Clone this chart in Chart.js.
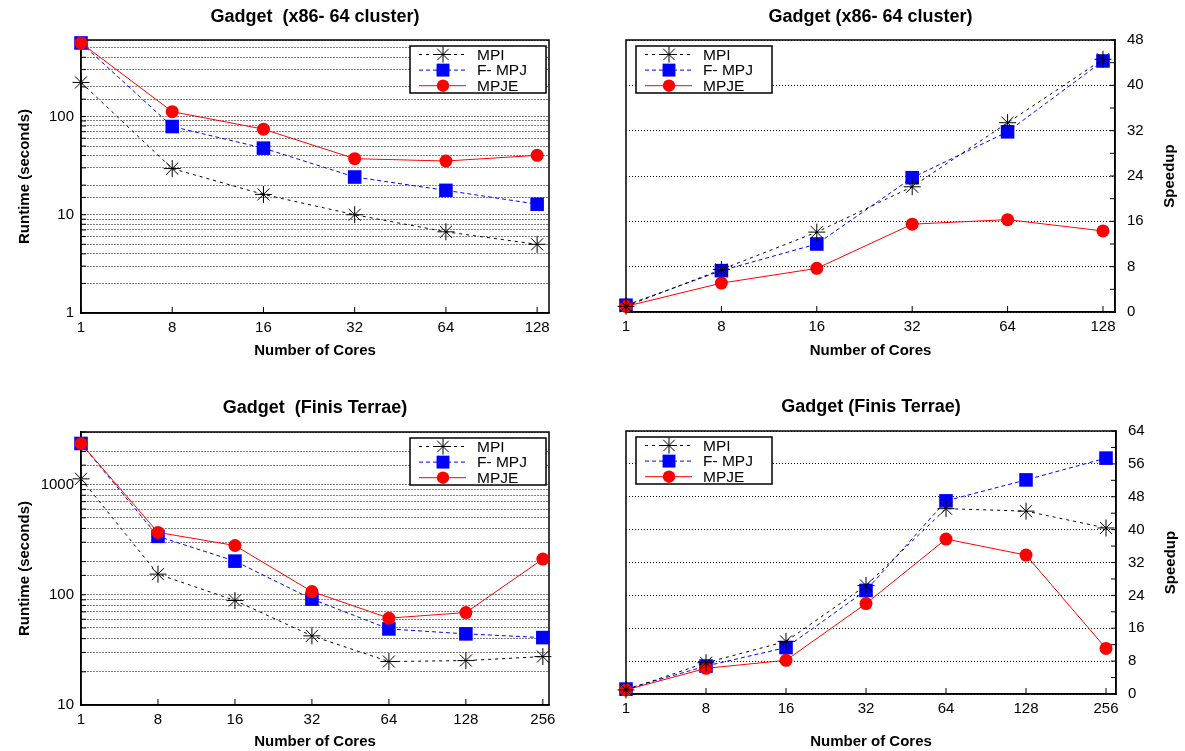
<!DOCTYPE html>
<html>
<head>
<meta charset="utf-8">
<script src="https://cdn.jsdelivr.net/npm/chart.js@4.4.1/dist/chart.umd.min.js"></script>
<style>
  html, body { margin: 0; padding: 0; background: #fff; }
  body { width: 1185px; height: 751px; position: relative; overflow: hidden; }
  canvas { position: absolute; }
</style>
</head>
<body>
<canvas id="runX86" width="630" height="370" style="left:0px;top:0px"></canvas>
<canvas id="runFT" width="630" height="360" style="left:0px;top:391px"></canvas>
<canvas id="spdX86" width="629" height="370" style="left:556px;top:0px"></canvas>
<canvas id="spdFT" width="628" height="361" style="left:557px;top:390px"></canvas>
<script>
// x categories
const coresX86 = ['1', '8', '16', '32', '64', '128'];
const coresFT = ['1', '8', '16', '32', '64', '128', '256'];
const seriesNames = ['MPI', 'F- MPJ', 'MPJE'];

// runtime (seconds), x86-64 cluster
const runtimeX86Mpi = [222, 29.5, 16.1, 10, 6.7, 5.0];
const runtimeX86Fmpj = [560, 79, 47.6, 24.2, 17.7, 12.8];
const runtimeX86Mpje = [560, 112, 74.3, 37.2, 35.2, 40.2];

// speedup, x86-64 cluster
const speedupX86Mpi = [1, 7.5, 14.1, 22.1, 33.4, 44.6];
const speedupX86Fmpj = [1.2, 7.3, 12.0, 23.7, 31.8, 44.3];
const speedupX86Mpje = [1, 5.1, 7.7, 15.5, 16.3, 14.3];

// runtime (seconds), Finis Terrae
const runtimeFTMpi = [1127, 154, 88.8, 42.4, 24.8, 25.3, 27.5];
const runtimeFTFmpj = [2360, 339, 202, 91.4, 49, 44.2, 40.9];
const runtimeFTMpje = [2360, 368, 280, 107, 61.4, 69, 211];

// speedup, Finis Terrae
const speedupFTMpi = [1, 7.6, 12.8, 26.4, 45.1, 44.5, 40.4];
const speedupFTFmpj = [1.2, 6.8, 11.3, 25.2, 47.0, 52.1, 57.4];
const speedupFTMpje = [1, 6.25, 8.2, 22.0, 37.7, 33.8, 11.1];

const runtimeTickLabels = [1, 10, 100, 1000];

Chart.defaults.font.family = '"Liberation Sans", Arial, sans-serif';
Chart.defaults.color = '#000';

const seriesStyle = [
  { color: '#000000', dash: [3, 4], point: 'star', radius: 8.5, fill: 'rgba(0,0,0,0)', pw: 1, order: 0 },
  { color: '#0000ff', dash: [4, 3], point: 'rect', radius: 9.6, fill: '#0000ff', pw: 0, order: 2 },
  { color: '#ff0000', dash: [], point: 'circle', radius: 6.5, fill: '#ff0000', pw: 0, order: 1 },
];

function buildDatasets(series) {
  return series.map((vals, i) => {
    const s = seriesStyle[i];
    return {
      label: seriesNames[i],
      data: vals.map((v, k) => ({ x: k, y: v })),
      borderColor: s.color,
      borderWidth: 1,
      borderDash: s.dash,
      pointStyle: s.point,
      pointRadius: s.radius,
      pointHoverRadius: s.radius,
      pointBackgroundColor: s.fill,
      pointBorderColor: s.color,
      pointBorderWidth: s.pw,
      fill: false,
      tension: 0,
      order: s.order,
      clip: false
    };
  });
}

// box around the plot plus small inward tick marks on the axis sides
const frame = {
  id: 'frame',
  beforeDatasetsDraw(chart) {
    const { ctx, chartArea: a } = chart;
    const ys = chart.scales.y;
    const onRight = ys.position === 'right';
    ctx.save();
    ctx.strokeStyle = '#000';
    ctx.lineWidth = 1;
    ctx.beginPath();
    ys.ticks.forEach(t => {
      const y = ys.getPixelForValue(t.value);
      if (onRight) { ctx.moveTo(a.right, y); ctx.lineTo(a.right - 5, y); }
      else { ctx.moveTo(a.left, y); ctx.lineTo(a.left + 5, y); }
    });
    chart.scales.x.ticks.forEach(t => {
      const x = chart.scales.x.getPixelForValue(t.value);
      ctx.moveTo(x, a.bottom); ctx.lineTo(x, a.bottom - 6);
    });
    ctx.stroke();
    ctx.lineWidth = 1.5;
    ctx.strokeRect(a.left, a.top, a.right - a.left, a.bottom - a.top);
    ctx.restore();
  }
};

const boxLegend = {
  id: 'boxLegend',
  afterDraw(chart, args, opts) {
    const { ctx, chartArea: a } = chart;
    const w = 136, h = 47;
    const x0 = opts.side === 'right' ? a.right - 3 - w : a.left + 10;
    const y0 = a.top + 6;
    ctx.save();
    ctx.fillStyle = '#fff';
    ctx.fillRect(x0, y0, w, h);
    ctx.lineWidth = 1.5;
    ctx.strokeStyle = '#000';
    ctx.strokeRect(x0, y0, w, h);
    chart.data.datasets.forEach((ds, i) => {
      const y = y0 + 8.5 + i * 15.6;
      ctx.lineWidth = 1;
      ctx.strokeStyle = ds.borderColor;
      ctx.setLineDash(ds.borderDash);
      ctx.beginPath();
      ctx.moveTo(x0 + 9, y);
      ctx.lineTo(x0 + 56, y);
      ctx.stroke();
      ctx.setLineDash([]);
      ctx.fillStyle = ds.pointBackgroundColor;
      ctx.strokeStyle = ds.pointBorderColor;
      Chart.helpers.drawPoint(ctx, {
        pointStyle: ds.pointStyle, radius: ds.pointRadius * 0.95, rotation: 0, borderWidth: ds.pointBorderWidth
      }, x0 + 33, y);
      ctx.fillStyle = '#000';
      ctx.font = '15.5px "Liberation Sans", Arial, sans-serif';
      ctx.textAlign = 'left';
      ctx.textBaseline = 'middle';
      ctx.fillText(ds.label, x0 + 67, y + 1);
    });
    ctx.restore();
  }
};

// right-hand axis title read bottom to top
const sideTitle = {
  id: 'sideTitle',
  afterDraw(chart, args, opts) {
    if (!opts.text) return;
    const { ctx, chartArea: a } = chart;
    ctx.save();
    ctx.translate(a.right + opts.offset, (a.top + a.bottom) / 2);
    ctx.rotate(-Math.PI / 2);
    ctx.font = 'bold 15px "Liberation Sans", Arial, sans-serif';
    ctx.fillStyle = '#000';
    ctx.textAlign = 'center';
    ctx.textBaseline = 'middle';
    ctx.fillText(opts.text, 0, 0);
    ctx.restore();
  }
};

function makeChart(id, c) {
  const isLog = c.yType === 'logarithmic';
  const yScale = isLog ? {
    type: 'logarithmic',
    position: 'left',
    min: c.yMin, max: c.yMax,
    afterFit: s => { s.width = c.yWidth; },
    ticks: {
      autoSkip: false,
      font: { size: 15 },
      padding: 7,
      callback: v => runtimeTickLabels.includes(v) ? String(v) : ''
    },
    grid: { color: '#000', lineWidth: 1, drawTicks: false },
    border: { display: true, color: '#000', width: 1.5, dash: [1, 2] },
    title: {
      display: true, text: 'Runtime (seconds)',
      font: { size: 15, weight: 'bold' }, padding: { top: 16, bottom: 0 }
    }
  } : {
    type: 'linear',
    position: 'right',
    min: c.yMin, max: c.yMax,
    afterFit: s => { s.width = c.yWidth; },
    ticks: {
      stepSize: 4,
      autoSkip: false,
      font: { size: 15 },
      padding: 12,
      callback: v => v % 8 === 0 ? String(v) : ''
    },
    grid: {
      color: ctx => (ctx.tick && ctx.tick.value % 8 === 0) ? '#000' : 'rgba(0,0,0,0)',
      lineWidth: 1, drawTicks: false
    },
    border: { display: true, color: '#000', width: 1.5, dash: [1, 2] }
  };

  return new Chart(document.getElementById(id), {
    type: 'line',
    data: { datasets: buildDatasets(c.series) },
    plugins: [frame, boxLegend, sideTitle],
    options: {
      responsive: false,
      animation: false,
      devicePixelRatio: 1,
      events: [],
      layout: { padding: { left: c.padLeft, right: c.padRight, top: 0, bottom: 0 } },
      scales: {
        x: {
          type: 'linear',
          min: 0, max: c.xMax,
          afterFit: s => { s.height = c.xHeight; },
          afterBuildTicks: s => { s.ticks = c.cores.map((lbl, i) => ({ value: i })); },
          ticks: {
            autoSkip: false, maxRotation: 0, font: { size: 15 }, padding: 6,
            callback: v => c.cores[v]
          },
          grid: { display: false, drawTicks: false },
          border: { display: true, color: '#000', width: 1.5 },
          title: {
            display: true, text: 'Number of Cores',
            font: { size: 15, weight: 'bold' }, padding: { top: 0, bottom: c.xTitlePad }
          }
        },
        y: yScale
      },
      plugins: {
        legend: { display: false },
        tooltip: { enabled: false },
        title: {
          display: true, text: c.title, color: '#000',
          fullSize: false,
          font: { size: 18, weight: 'bold' },
          padding: { top: 6, bottom: c.titleGap }
        },
        boxLegend: { side: isLog ? 'right' : 'left' },
        sideTitle: { text: isLog ? '' : 'Speedup', offset: 55 }
      }
    }
  });
}

makeChart('runX86', {
  title: 'Gadget  (x86- 64 cluster)', cores: coresX86, xMax: 5.13,
  series: [runtimeX86Mpi, runtimeX86Fmpj, runtimeX86Mpje],
  yType: 'logarithmic', yMin: 1, yMax: 600, yWidth: 81,
  padLeft: 0, padRight: 81, titleGap: 12.4, xHeight: 57, xTitlePad: 10
});

makeChart('runFT', {
  title: 'Gadget  (Finis Terrae)', cores: coresFT, xMax: 6.08,
  series: [runtimeFTMpi, runtimeFTFmpj, runtimeFTMpje],
  yType: 'logarithmic', yMin: 10, yMax: 3000, yWidth: 81,
  padLeft: 0, padRight: 81, titleGap: 13.4, xHeight: 46, xTitlePad: 0
});

makeChart('spdX86', {
  title: 'Gadget (x86- 64 cluster)', cores: coresX86, xMax: 5.126,
  series: [speedupX86Mpi, speedupX86Fmpj, speedupX86Mpje],
  yType: 'linear', yMin: 0, yMax: 48, yWidth: 70,
  padLeft: 70, padRight: 0, titleGap: 12.4, xHeight: 58, xTitlePad: 10
});

makeChart('spdFT', {
  title: 'Gadget (Finis Terrae)', cores: coresFT, xMax: 6.125,
  series: [speedupFTMpi, speedupFTFmpj, speedupFTMpje],
  yType: 'linear', yMin: 0, yMax: 64, yWidth: 69,
  padLeft: 69, padRight: 0, titleGap: 13.4, xHeight: 57, xTitlePad: 0
});
</script>
</body>
</html>
